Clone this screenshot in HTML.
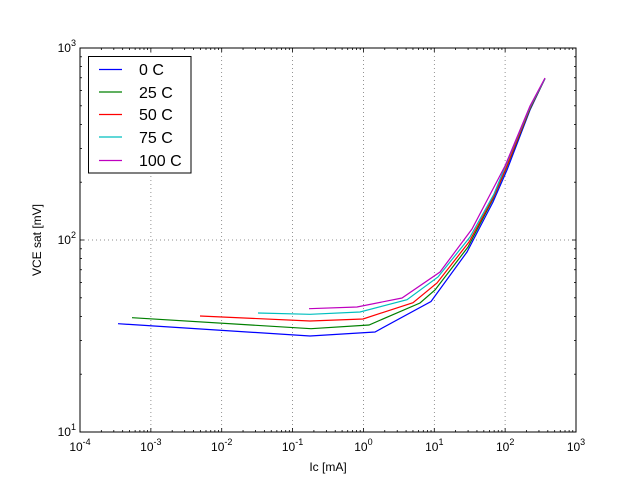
<!DOCTYPE html>
<html><head><meta charset="utf-8"><style>body{margin:0;background:#fff}svg{display:block}text{font-family:"Liberation Sans",sans-serif}</style></head><body>
<svg width="640" height="480" xmlns="http://www.w3.org/2000/svg">
<rect width="640" height="480" fill="#fff"/>
<g id="grid" stroke="#000" stroke-dasharray="1,3" stroke-width="0.7" opacity="0.6">
<line x1="150.9" y1="48" x2="150.9" y2="432"/><line x1="221.7" y1="48" x2="221.7" y2="432"/><line x1="292.6" y1="48" x2="292.6" y2="432"/><line x1="363.4" y1="48" x2="363.4" y2="432"/><line x1="434.3" y1="48" x2="434.3" y2="432"/><line x1="505.1" y1="48" x2="505.1" y2="432"/>
<line x1="80" y1="240" x2="576" y2="240"/>
</g>
<g fill="none" stroke-width="1.2">
<polyline stroke="#0000ff" points="118,323.7 310,336 375,332 431,301.5 467,252 493,202 507,170 530,110 545,78.5"/>
<polyline stroke="#008000" points="132,317.7 311,328.7 369,325 420,303 435,290 468,247 493,199 506,169 530,109 545,78.5"/>
<polyline stroke="#ff0000" points="200,316 310,321 363,319 413,302.7 437,283 469,242 494,196 506,168 530,108 545,78.5"/>
<polyline stroke="#00bfbf" points="258,313 310,314.3 360,312 407,299.7 438,277 470,237 494,194 505,167 530,107 545,78.5"/>
<polyline stroke="#bf00bf" points="309,308.7 357,307 402,298 440,272 472,229 505,166 530,106 545,78"/>
</g>
<rect x="80" y="48" width="496" height="384" fill="none" stroke="#000" stroke-width="1"/>
<g id="ticks" stroke="#000" stroke-width="0.8"></g>
<rect x="88.5" y="56.5" width="102.5" height="116.5" fill="#fff" stroke="#000"/>
<g stroke-width="1.2">
<line x1="99" y1="69.5" x2="122" y2="69.5" stroke="#0000ff"/>
<line x1="99" y1="92" x2="122" y2="92" stroke="#008000"/>
<line x1="99" y1="114.5" x2="122" y2="114.5" stroke="#ff0000"/>
<line x1="99" y1="137" x2="122" y2="137" stroke="#00bfbf"/>
<line x1="99" y1="160.5" x2="122" y2="160.5" stroke="#bf00bf"/>
</g>
<g font-size="16" fill="#000">
<text x="139" y="75">0 C</text><text x="139" y="98">25 C</text><text x="139" y="120">50 C</text><text x="139" y="143">75 C</text><text x="139" y="166">100 C</text>
</g>
<g id="xl" font-size="12" text-anchor="middle"></g>
<g id="yl" font-size="12" text-anchor="end"></g>
<text x="328" y="471" font-size="12" text-anchor="middle">Ic [mA]</text>
<text transform="translate(41,240) rotate(-90)" font-size="12" text-anchor="middle">VCE sat [mV]</text>
</svg>
<script>
var ns="http://www.w3.org/2000/svg",t=document.getElementById("ticks");
function L(a,b,c,d){var l=document.createElementNS(ns,"line");l.setAttribute("x1",a);l.setAttribute("y1",b);l.setAttribute("x2",c);l.setAttribute("y2",d);t.appendChild(l);}
var dx=496/7,dy=192;
for(var i=0;i<=7;i++){var x=80+i*dx;L(x,432,x,428);L(x,48,x,52);
 if(i<7)for(var k=2;k<10;k++){var xm=x+Math.log10(k)*dx;L(xm,432,xm,430);L(xm,48,xm,50);}}
for(var j=0;j<=2;j++){var y=432-j*dy;L(80,y,84,y);L(576,y,572,y);
 if(j<2)for(var k=2;k<10;k++){var ym=y-Math.log10(k)*dy;L(80,ym,82,ym);L(576,ym,574,ym);}}
var xl=document.getElementById("xl");
for(var i=0;i<=7;i++){var e=i-4,tx=document.createElementNS(ns,"text");tx.setAttribute("x",80+i*dx);tx.setAttribute("y",451);
 tx.innerHTML='10<tspan dy="-6" font-size="9">'+(e<0?'-'+(-e):e)+'</tspan>';xl.appendChild(tx);}
var yl=document.getElementById("yl");
for(var j=0;j<=2;j++){var tx=document.createElementNS(ns,"text");tx.setAttribute("x",76);tx.setAttribute("y",436-j*dy);
 tx.innerHTML='10<tspan dy="-6" font-size="9">'+(j+1)+'</tspan>';yl.appendChild(tx);}
</script>
</body></html>
